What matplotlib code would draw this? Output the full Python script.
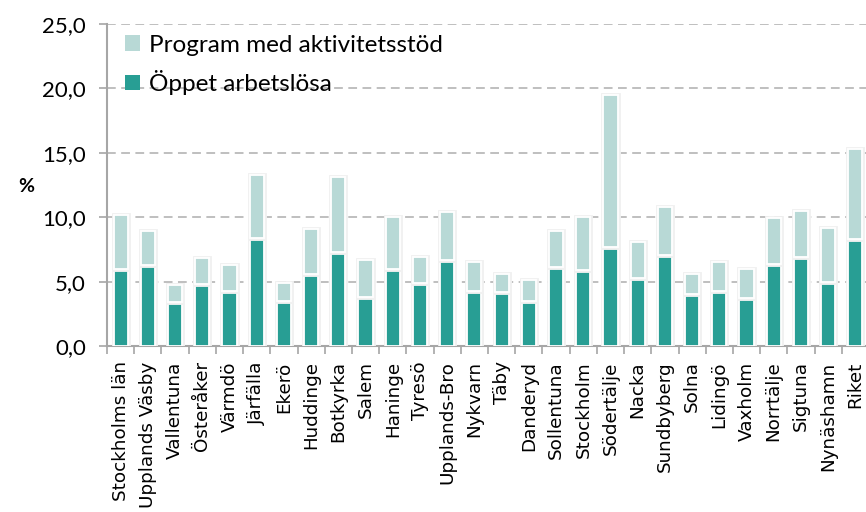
import matplotlib
matplotlib.use("Agg")
import matplotlib.pyplot as plt
import matplotlib.patheffects as pe
from matplotlib.patches import Patch
import numpy as np

categories = ["Stockholms län", "Upplands Väsby", "Vallentuna", "Österåker", "Värmdö",
              "Järfälla", "Ekerö", "Huddinge", "Botkyrka", "Salem", "Haninge", "Tyresö",
              "Upplands-Bro", "Nykvarn", "Täby", "Danderyd", "Sollentuna", "Stockholm",
              "Södertälje", "Nacka", "Sundbyberg", "Solna", "Lidingö", "Vaxholm",
              "Norrtälje", "Sigtuna", "Nynäshamn", "Riket"]
oppet = [6.0, 6.3, 3.4, 4.8, 4.3, 8.4, 3.5, 5.6, 7.3, 3.8, 6.0, 4.9,
         6.7, 4.3, 4.2, 3.5, 6.1, 5.9, 7.7, 5.3, 7.1, 4.0, 4.3, 3.7,
         6.4, 6.9, 5.0, 8.3]
totals = [10.2, 8.9, 4.7, 6.8, 6.3, 13.3, 4.9, 9.1, 13.1, 6.7, 10.0, 6.9,
          10.4, 6.5, 5.6, 5.1, 8.9, 10.0, 19.5, 8.1, 10.8, 5.6, 6.5, 6.0,
          9.9, 10.5, 9.2, 15.3]
program = [round(t - o, 1) for t, o in zip(totals, oppet)]
yticks = [0, 5, 10, 15, 20, 25]
series_labels = ["Program med aktivitetsstöd", "Öppet arbetslösa"]

dark = "#289e94"
light = "#b8d9d6"
grey = "#a6a6a6"

fig = plt.figure(figsize=(8.66, 5.12), dpi=100)
ax = fig.add_axes([107/866, 166/512, 762/866, 322/512])

x = np.arange(len(categories))
shadow = [pe.withStroke(linewidth=3.5, foreground="#f1f1f1")]
b1 = ax.bar(x, oppet, width=0.52, color=dark, edgecolor="white", linewidth=1.3, zorder=3)
b2 = ax.bar(x, program, bottom=oppet, width=0.52, color=light, edgecolor="white", linewidth=1.3, zorder=3)
for b in list(b1) + list(b2):
    b.set_path_effects(shadow)

ax.set_xlim(-0.5, len(categories) - 0.5)
ax.set_ylim(0, 25)
ax.set_yticks(yticks)
ax.set_yticklabels([f"{v:.1f}".replace(".", ",") for v in yticks],
                   fontfamily="Lato", fontsize=16)
ax.yaxis.grid(True, linestyle=(0, (4.5, 2.8)), color="#bfbfbf", linewidth=1.4, zorder=0)
ax.set_axisbelow(True)

ax.set_xticks(x)
ax.set_xticklabels(categories, rotation=90, fontfamily="DejaVu Sans", fontsize=13.2)
ax.set_xticks(np.arange(len(categories) + 1) - 0.5, minor=True)
ax.tick_params(axis="x", which="major", length=0, pad=11)
ax.tick_params(axis="x", which="minor", length=6, width=1.2, color=grey)
ax.tick_params(axis="y", length=6, width=1.2, color=grey, pad=9)

for s in ["top", "right"]:
    ax.spines[s].set_visible(False)
for s in ["left", "bottom"]:
    ax.spines[s].set_color(grey)
    ax.spines[s].set_linewidth(1.5)

fig.text(18/866, 1 - 187/512, "%", fontsize=14, fontweight="bold",
         fontfamily="Lato", ha="left", va="center")

handles = [Patch(facecolor=light, edgecolor="none"), Patch(facecolor=dark, edgecolor="none")]
leg = ax.legend(handles, series_labels, loc="upper left", bbox_to_anchor=(-0.005, 1.035),
                frameon=False, prop={"family": "Lato", "size": 17.5},
                handlelength=0.6, handleheight=0.6, handletextpad=0.4,
                labelspacing=0.6, borderaxespad=0.5)

fig.savefig("out.png", dpi=100)
